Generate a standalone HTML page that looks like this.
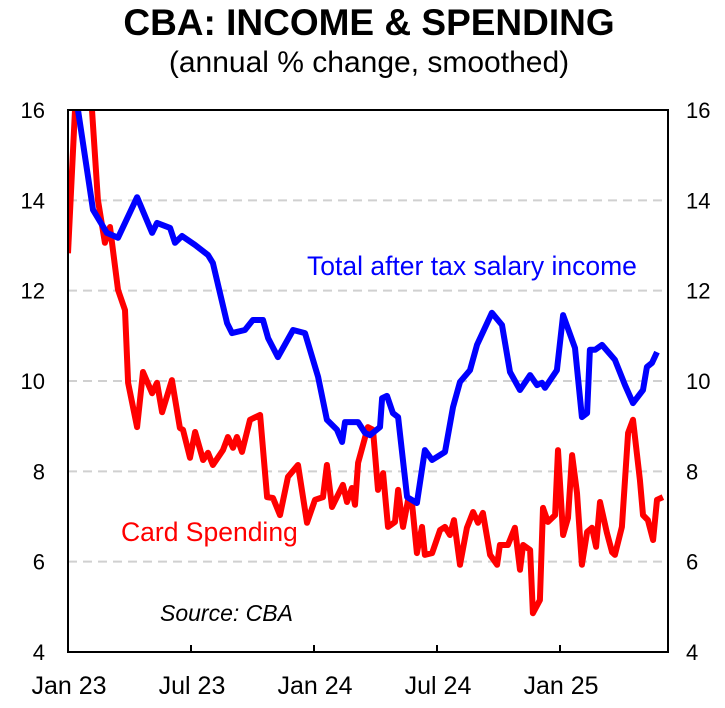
<!DOCTYPE html>
<html><head><meta charset="utf-8"><style>
body{margin:0;background:#fff;}
svg text{font-family:"Liberation Sans",Arial,sans-serif;}
</style></head><body>
<svg width="725" height="703" viewBox="0 0 725 703" xmlns="http://www.w3.org/2000/svg">
<defs><clipPath id="pc"><rect x="68" y="110" width="600" height="542"/></clipPath></defs>
<text x="369" y="35" text-anchor="middle" font-size="37" font-weight="bold">CBA: INCOME &amp; SPENDING</text>
<text x="369" y="72" text-anchor="middle" font-size="30">(annual % change, smoothed)</text>
<g id="grid"></g>
<g id="ticks"></g>
<g id="series" clip-path="url(#pc)"></g>
<rect x="68" y="110" width="600" height="542" fill="none" stroke="#000" stroke-width="2"/>
<text x="307" y="275" font-size="26.5" fill="#0000ff">Total after tax salary income</text>
<text x="121" y="541" font-size="26.5" fill="#ff0000">Card Spending</text>
<text x="160" y="621" font-size="23" font-style="italic">Source: CBA</text>
</svg>
<script>
const yTicks=[4,6,8,10,12,14,16];
const xTickLabels=["Jan 23","Jul 23","Jan 24","Jul 24","Jan 25"];
const xTickMonths=[0,6,12,18,24];
// months since Jan 2023
const incomeMonths=[0.2,0.49,1.22,1.9,2.44,3.37,4.1,4.34,4.98,5.22,5.56,6.2,6.83,7.07,7.76,8.0,8.63,9.02,9.51,9.76,10.24,10.98,11.56,12.2,12.63,13.12,13.37,13.51,14.15,14.49,14.73,15.22,15.32,15.56,15.85,16.1,16.54,17.02,17.41,17.76,18.39,18.78,19.12,19.61,19.95,20.68,21.17,21.56,22.05,22.54,22.88,23.12,23.27,23.85,24.15,24.73,25.07,25.32,25.46,25.71,26.05,26.68,27.17,27.56,28.05,28.24,28.49,28.73];
const incomeValues=[17,16.0,13.79,13.28,13.17,14.07,13.28,13.5,13.39,13.06,13.21,13.01,12.79,12.61,11.28,11.06,11.13,11.35,11.35,10.95,10.53,11.13,11.06,10.09,9.14,8.92,8.65,9.09,9.09,8.85,8.8,8.98,9.62,9.67,9.29,9.2,7.43,7.3,8.47,8.25,8.43,9.42,9.98,10.24,10.8,11.51,11.24,10.2,9.8,10.13,9.91,9.96,9.85,10.24,11.46,10.73,9.2,9.29,10.69,10.69,10.8,10.47,9.91,9.51,9.8,10.31,10.4,10.64];
const spendMonths=[0,0.34,0.75,1.17,1.46,1.8,2.05,2.44,2.78,2.93,3.37,3.66,4.1,4.34,4.59,5.07,5.46,5.61,5.95,6.2,6.59,6.83,7.07,7.56,7.8,8.05,8.24,8.49,8.88,9.37,9.71,10.0,10.34,10.73,11.22,11.66,12.05,12.44,12.63,12.88,13.41,13.61,13.85,14.0,14.15,14.63,14.88,15.12,15.37,15.61,15.95,16.1,16.34,16.59,16.78,17.02,17.27,17.41,17.76,18.15,18.39,18.63,18.83,19.12,19.46,19.76,20.0,20.24,20.59,20.93,21.07,21.46,21.8,22.05,22.2,22.54,22.68,23.02,23.17,23.41,23.76,23.9,24.15,24.39,24.59,24.83,25.07,25.32,25.56,25.76,25.95,26.29,26.54,26.68,27.02,27.32,27.56,27.9,28.05,28.29,28.54,28.73,29.02];
const spendValues=[12.83,16,17.5,16,14.01,13.06,13.41,12.02,11.57,9.96,8.98,10.2,9.73,9.96,9.31,10.02,8.96,8.92,8.3,8.87,8.25,8.41,8.14,8.47,8.76,8.52,8.76,8.43,9.14,9.25,7.43,7.41,7.03,7.88,8.14,6.86,7.37,7.43,8.14,7.21,7.7,7.32,7.63,7.26,8.19,8.98,8.92,7.59,7.96,6.77,6.88,7.59,6.77,7.37,7.3,6.19,6.77,6.15,6.19,6.7,6.77,6.59,6.92,5.93,6.75,7.1,6.86,7.08,6.15,5.93,6.37,6.37,6.75,5.82,6.37,6.26,4.86,5.15,7.19,6.88,7.03,8.47,6.59,6.97,8.36,7.52,5.93,6.66,6.75,6.33,7.32,6.64,6.21,6.15,6.77,8.85,9.14,7.81,7.03,6.92,6.48,7.37,7.43];

const NS="http://www.w3.org/2000/svg";
const X=m=>68+m*20.5;
const Y=v=>652-(v-4)*(542/12);
const grid=document.getElementById('grid'),ticks=document.getElementById('ticks'),series=document.getElementById('series');
function mk(tag,at,parent){const e=document.createElementNS(NS,tag);for(const k in at)e.setAttribute(k,at[k]);parent.appendChild(e);return e;}
yTicks.forEach(v=>{
  if(v>4&&v<16){const l=mk('line',{x1:68,x2:668,y1:Y(v),y2:Y(v),stroke:'#d0d0d0','stroke-width':2,'stroke-dasharray':'9,6'},grid);
  
  }
  const t1=mk('text',{x:45,y:Y(v)+8,'text-anchor':'end','font-size':22},ticks);t1.textContent=v;
  
  
  const t2=mk('text',{x:686,y:Y(v)+8,'font-size':22},ticks);t2.textContent=v;
  
  
});
xTickLabels.forEach((s,i)=>{
  const t=mk('text',{x:X(xTickMonths[i])+1,y:694,'text-anchor':'middle','font-size':25},ticks);t.textContent=s;
  
  
  const tm=mk('line',{x1:X(xTickMonths[i]),x2:X(xTickMonths[i]),y1:652,y2:645,stroke:'#000','stroke-width':2},ticks);
  
  
});
function line(ms,vs,col,name){
  const d=ms.map((m,i)=>(i?'L':'M')+X(m).toFixed(1)+','+Y(vs[i]).toFixed(1)).join('');
  const p=mk('path',{d:d,fill:'none',stroke:col,'stroke-width':6,'stroke-linejoin':'round'},series);
  
  
}
line(spendMonths,spendValues,'#ff0000','card-spending-line');
line(incomeMonths,incomeValues,'#0000ff','income-line');
</script>
</body></html>
